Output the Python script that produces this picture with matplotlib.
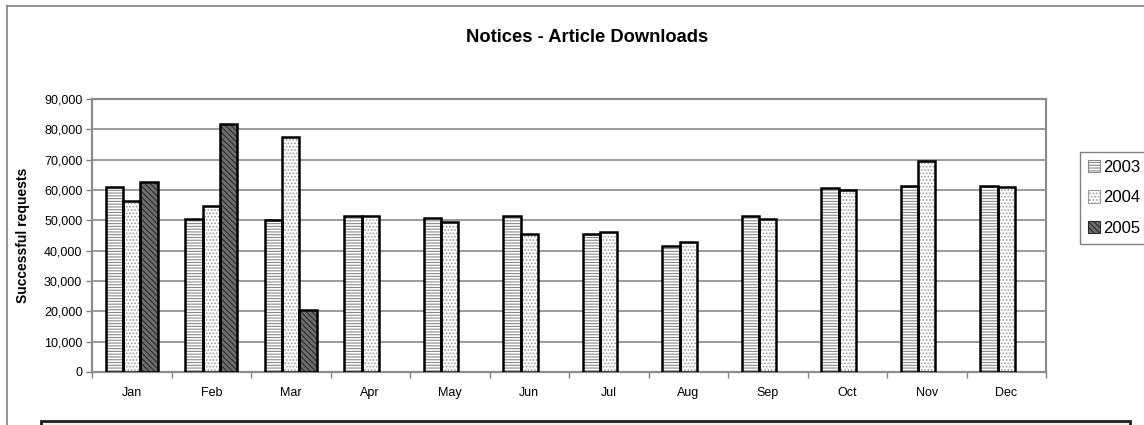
import numpy as np
import matplotlib
matplotlib.use('Agg')
from matplotlib import pyplot as plt
from matplotlib.patches import Patch, Rectangle
from matplotlib.lines import Line2D

plt.rcParams['font.family'] = ['Liberation Sans', 'DejaVu Sans']
plt.rcParams['hatch.linewidth'] = 0.8

months = ['Jan', 'Feb', 'Mar', 'Apr', 'May', 'Jun', 'Jul', 'Aug', 'Sep', 'Oct', 'Nov', 'Dec']
years = ['2003', '2004', '2005']
req_2003 = [61000, 50400, 50200, 51500, 50800, 51500, 45400, 41700, 51400, 60500, 61300, 61300]
req_2004 = [56400, 54600, 77600, 51500, 49300, 45400, 46300, 42800, 50300, 59900, 69500, 61100]
req_2005 = [62500, 81900, 20300, np.nan, np.nan, np.nan, np.nan, np.nan, np.nan, np.nan, np.nan, np.nan]

# стиль заливки для каждого года: (фон, цвет штриховки, штриховка)
styles = [('white', '#8a8a8a', '------'),
          ('white', '#9a9a9a', '.....'),
          ('#6e6e6e', '#2a2a2a', '\\\\\\\\\\\\')]

fig = plt.figure(figsize=(11.44, 4.25), dpi=100)
ax = fig.add_axes([92 / 1144, 1 - 372 / 425, 954 / 1144, 273 / 425])

x = np.arange(len(months))
width = 0.22
for i, values in enumerate([req_2003, req_2004, req_2005]):
    face, hatch_clr, hatch = styles[i]
    pos = x + (i - 1) * width
    ax.bar(pos, values, width, color=face, edgecolor=hatch_clr, hatch=hatch, linewidth=0, zorder=3)
    ax.bar(pos, values, width, fill=False, edgecolor='black', linewidth=1.8, zorder=4)

ax.set_xlim(-0.5, 11.5)
ax.set_ylim(0, 90000)
ax.set_yticks(range(0, 90001, 10000))
ax.set_yticklabels(['{:,}'.format(v) for v in range(0, 90001, 10000)], fontsize=9)
ax.set_xticks(x)
ax.set_xticklabels(months, fontsize=9)
ax.set_xticks(np.arange(-0.5, 12, 1), minor=True)
ax.tick_params(axis='x', which='major', length=0, pad=11)
ax.tick_params(axis='x', which='minor', length=4, color='#808080', width=1)
ax.tick_params(axis='y', length=4, color='#808080', width=1, pad=3)
ax.yaxis.grid(True, color='#808080', linewidth=1.1, zorder=1)
ax.set_axisbelow(True)
for spine in ax.spines.values():
    spine.set_color('#8c8c8c')
    spine.set_linewidth(1.6)

ax.set_ylabel('Successful requests', fontsize=10, fontweight='bold', labelpad=10)

fig.text(587 / 1144, 1 - 42 / 425, 'Notices - Article Downloads', ha='center', va='baseline',
         fontsize=13.2, fontweight='bold')

handles = [Patch(facecolor=s[0], edgecolor=s[1], hatch=s[2], linewidth=0.8) for s in styles]
leg = fig.legend(handles, years, loc='upper left', bbox_to_anchor=(1080 / 1144, 1 - 152 / 425),
                 fontsize=12, frameon=True, fancybox=False, borderaxespad=0,
                 handlelength=0.75, handleheight=0.75, handletextpad=0.2, labelspacing=0.95,
                 borderpad=0.45)
leg.get_frame().set_edgecolor('#606060')
leg.get_frame().set_linewidth(1)

# рамка области диаграммы
fig.add_artist(Line2D([7 / 1144, 7 / 1144], [0, 1 - 6 / 425], color='#808080', linewidth=1.2))
fig.add_artist(Line2D([7 / 1144, 1], [1 - 6 / 425, 1 - 6 / 425], color='#808080', linewidth=1.2))
# поле примечания внизу
fig.add_artist(Rectangle((41 / 1144, -0.05), 1089 / 1144, 0.05 + 4 / 425,
                         facecolor='#f0f0f0', edgecolor='#202020', linewidth=2))

fig.savefig('out.png', dpi=100)
